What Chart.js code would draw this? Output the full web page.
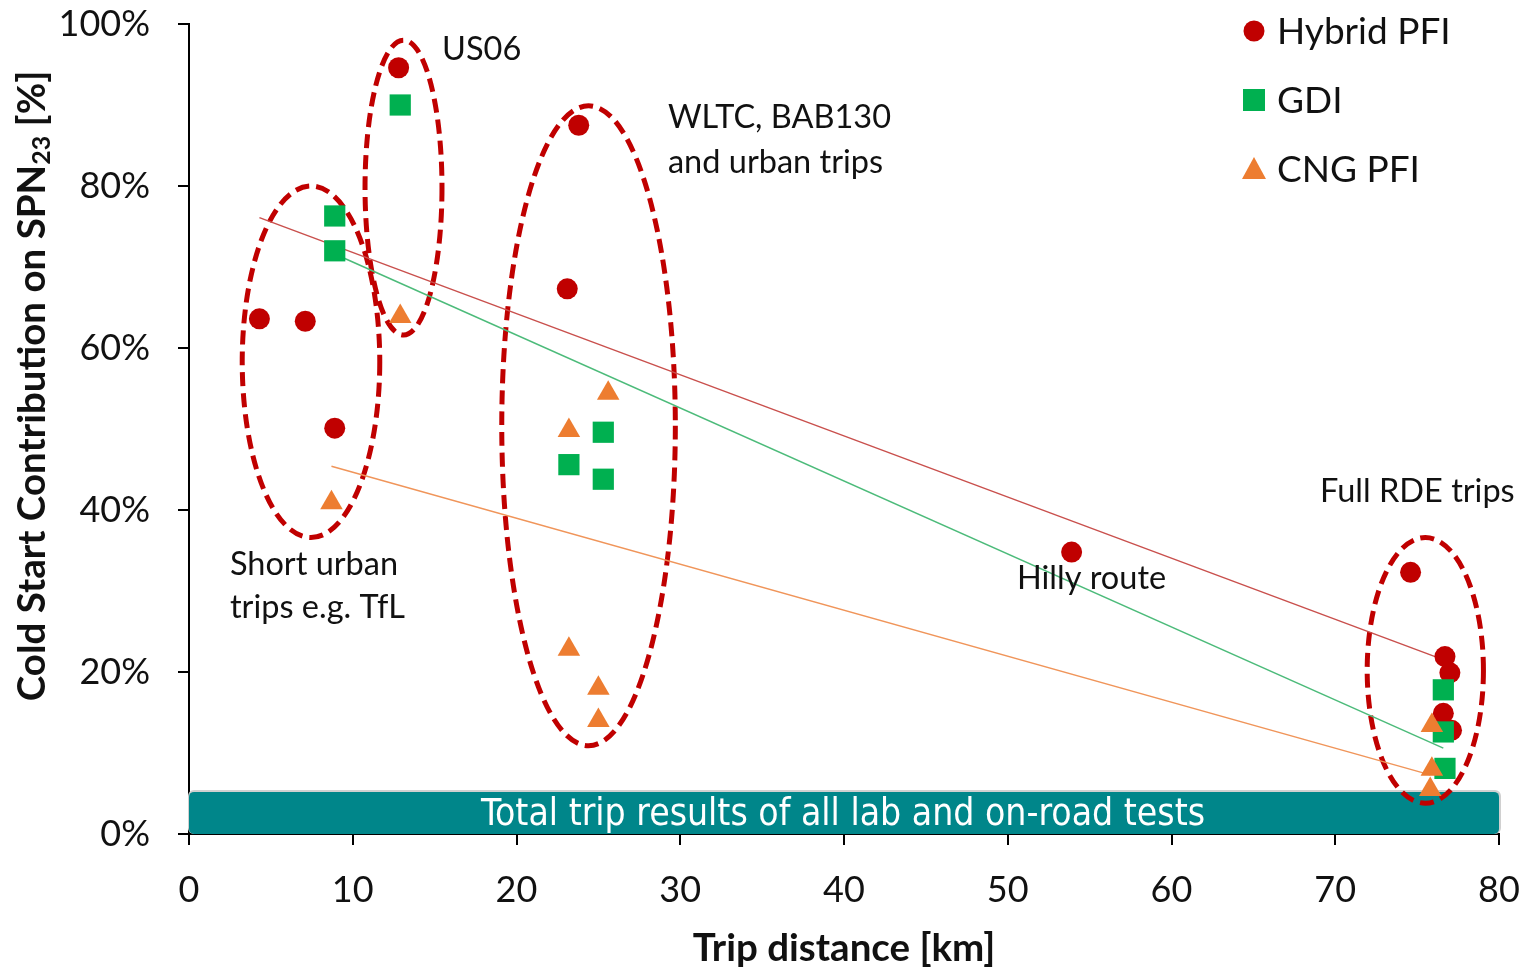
<!DOCTYPE html>
<html><head><meta charset="utf-8">
<script src="https://cdn.jsdelivr.net/npm/chart.js@4.4.0/dist/chart.umd.min.js"></script>
<style>html,body{margin:0;padding:0;background:#fff;}</style>
</head><body>
<canvas id="c" width="1524" height="969"></canvas>
<script>
// ---- data ----
const hybridX = [4.3, 7.1, 8.9, 12.8, 23.8, 23.1, 53.9, 74.6, 76.7, 77.0, 76.6, 77.1];
const hybridY = [63.6, 63.3, 50.1, 94.6, 87.5, 67.3, 34.8, 32.3, 21.9, 19.9, 14.9, 12.8];
const gdiX = [8.9, 8.9, 12.9, 23.2, 25.3, 25.3, 76.6, 76.6, 76.7];
const gdiY = [76.3, 72.0, 90.0, 45.6, 49.6, 43.8, 17.8, 12.6, 8.1];
const cngX = [8.7, 12.9, 23.2, 25.6, 23.2, 25.0, 25.0, 75.9, 75.9, 75.8];
const cngY = [40.9, 63.9, 49.8, 54.4, 22.8, 18.0, 14.0, 13.4, 8.0, 5.5];
const hybridTrendX = [4.3, 76.1], hybridTrendY = [76.1, 21.9];
const gdiTrendX = [8.9, 76.6], gdiTrendY = [71.6, 10.6];
const cngTrendX = [8.7, 75.8], cngTrendY = [45.4, 7.3];
const xTicks = [0, 10, 20, 30, 40, 50, 60, 70, 80];
const yTicks = [0, 20, 40, 60, 80, 100];
const seriesNames = ['Hybrid PFI', 'GDI', 'CNG PFI'];
// groups circled in the reference (centre x/y, half-width km, half-height %)
const groupCx = [7.45, 13.1, 24.4, 75.5];
const groupCy = [58.3, 79.8, 50.4, 20.2];
const groupRx = [4.2, 2.35, 5.3, 3.55];
const groupRy = [21.7, 18.2, 39.5, 16.4];
const noteText = ['US06', 'WLTC, BAB130', 'and urban trips', 'Short urban', 'trips e.g. TfL', 'Hilly route', 'Full RDE trips'];
const noteX = [15.45, 29.25, 29.25, 2.5, 2.5, 50.56, 69.07];
const noteY = [96.8, 88.5, 82.96, 33.3, 27.9, 31.6, 42.3];
const bandTop = 5.2;
const bandText = 'Total trip results of all lab and on-road tests';

const RED = '#c00000', GREEN = '#00b050', ORANGE = '#ed7d31';
const toPts = (xs, ys) => xs.map((x, i) => ({x, y: ys[i]}));

const decorPlugin = {
  id: 'decor',
  beforeDatasetsDraw(chart) {
    const {ctx, scales: {x, y}} = chart;
    const x0 = x.getPixelForValue(0), x1 = x.getPixelForValue(80);
    const y0 = y.getPixelForValue(bandTop), y1 = y.getPixelForValue(0);
    ctx.save();
    ctx.fillStyle = '#d0d0d0';
    ctx.beginPath(); ctx.roundRect(x0 - 1, y0 - 2, x1 - x0 + 3, y1 - y0 + 2, 6); ctx.fill();
    ctx.fillStyle = '#00868a';
    ctx.beginPath(); ctx.roundRect(x0, y0, x1 - x0, y1 - y0, 5); ctx.fill();
    ctx.fillStyle = '#ffffff';
    ctx.font = '37px "DejaVu Sans Condensed", "DejaVu Sans", sans-serif';
    ctx.textAlign = 'center'; ctx.textBaseline = 'middle';
    ctx.fillText(bandText, (x0 + x1) / 2 - 1, (y0 + y1) / 2 + 2);
    ctx.strokeStyle = RED; ctx.lineWidth = 5; ctx.setLineDash([14, 7]);
    for (let i = 0; i < groupCx.length; i++) {
      const cx = x.getPixelForValue(groupCx[i]), cy = y.getPixelForValue(groupCy[i]);
      const rx = Math.abs(x.getPixelForValue(groupCx[i] + groupRx[i]) - cx);
      const ry = Math.abs(y.getPixelForValue(groupCy[i] + groupRy[i]) - cy);
      ctx.beginPath(); ctx.ellipse(cx, cy, rx, ry, 0, 0, Math.PI * 2); ctx.stroke();
    }
    ctx.restore();
  },
  afterDraw(chart) {
    const {ctx, scales: {x, y}} = chart;
    ctx.save();
    ctx.fillStyle = '#111'; ctx.font = '32.5px Lato, sans-serif';
    ctx.textAlign = 'left'; ctx.textBaseline = 'middle';
    noteText.forEach((t, i) => ctx.fillText(t, x.getPixelForValue(noteX[i]), y.getPixelForValue(noteY[i])));
    const lx = 1254, ly = [31, 100, 169];
    ctx.font = '37px Lato, sans-serif';
    seriesNames.forEach((n, i) => {
      const cy = ly[i];
      ctx.fillStyle = [RED, GREEN, ORANGE][i];
      ctx.beginPath();
      if (i === 0) ctx.arc(lx, cy, 10.5, 0, Math.PI * 2);
      else if (i === 1) ctx.rect(lx - 11, cy - 11, 22, 22);
      else { ctx.moveTo(lx, cy - 12); ctx.lineTo(lx + 12, cy + 10); ctx.lineTo(lx - 12, cy + 10); ctx.closePath(); }
      ctx.fill();
      ctx.fillStyle = '#111';
      ctx.fillText(n, 1277, cy + 1);
    });
    ctx.translate(33, 386); ctx.rotate(-Math.PI / 2);
    const main = 'Cold Start Contribution on SPN', sub = '23', tail = ' [%]';
    const fMain = 'bold 38.5px Lato, sans-serif', fSub = 'bold 25px Lato, sans-serif';
    ctx.font = fMain; const w1 = ctx.measureText(main).width, w3 = ctx.measureText(tail).width;
    ctx.font = fSub; const w2 = ctx.measureText(sub).width;
    let sx = -(w1 + w2 + w3) / 2;
    ctx.fillStyle = '#111'; ctx.textAlign = 'left'; ctx.textBaseline = 'middle';
    ctx.font = fMain; ctx.fillText(main, sx, 0); sx += w1;
    ctx.font = fSub; ctx.fillText(sub, sx, 9); sx += w2;
    ctx.font = fMain; ctx.fillText(tail, sx, 0);
    ctx.restore();
  }
};

new Chart(document.getElementById('c'), {
  type: 'scatter',
  data: {
    datasets: [
      {label: seriesNames[0], data: toPts(hybridX, hybridY), pointStyle: 'circle', pointRadius: 10.5, backgroundColor: RED, borderWidth: 0, order: 3},
      {label: seriesNames[1], data: toPts(gdiX, gdiY), pointStyle: 'rect', pointRadius: 15, backgroundColor: GREEN, borderWidth: 0, order: 2},
      {label: seriesNames[2], data: toPts(cngX, cngY), pointStyle: 'triangle', pointRadius: 13, backgroundColor: ORANGE, borderWidth: 0, order: 1},
      {label: 'trend1', data: toPts(hybridTrendX, hybridTrendY), showLine: true, pointRadius: 0, borderColor: '#c9504d', borderWidth: 1.5, order: 4},
      {label: 'trend2', data: toPts(gdiTrendX, gdiTrendY), showLine: true, pointRadius: 0, borderColor: '#4cbb7a', borderWidth: 1.5, order: 4},
      {label: 'trend3', data: toPts(cngTrendX, cngTrendY), showLine: true, pointRadius: 0, borderColor: '#f0955a', borderWidth: 1.5, order: 4}
    ]
  },
  options: {
    responsive: false, animation: false, devicePixelRatio: 1,
    layout: {padding: 0},
    plugins: {legend: {display: false}, tooltip: {enabled: false}},
    scales: {
      x: {
        type: 'linear', min: 0, max: 80,
        afterFit: s => { s.height = 135; s.paddingLeft = 0; s.paddingRight = 25; },
        afterBuildTicks: s => { s.ticks = xTicks.map(v => ({value: v})); },
        border: {color: '#000', width: 2},
        grid: {drawOnChartArea: false, drawTicks: true, tickLength: 11, color: '#000', lineWidth: 2},
        ticks: {font: {family: 'Lato', size: 36}, color: '#111', padding: 24, maxRotation: 0},
        title: {display: true, text: 'Trip distance [km]', font: {family: 'Lato', size: 38.5, weight: 'bold', lineHeight: 1.05}, color: '#111', padding: {top: 0, bottom: 0}}
      },
      y: {
        type: 'linear', min: 0, max: 100,
        afterFit: s => { s.width = 189; s.paddingTop = 24; s.paddingBottom = 0; },
        afterBuildTicks: s => { s.ticks = yTicks.map(v => ({value: v})); },
        border: {color: '#000', width: 2},
        grid: {drawOnChartArea: false, drawTicks: true, tickLength: 11, color: '#000', lineWidth: 2},
        ticks: {font: {family: 'Lato', size: 36}, color: '#111', padding: 28, callback: v => v + '%'}
      }
    }
  },
  plugins: [decorPlugin]
});
</script>
</body></html>
